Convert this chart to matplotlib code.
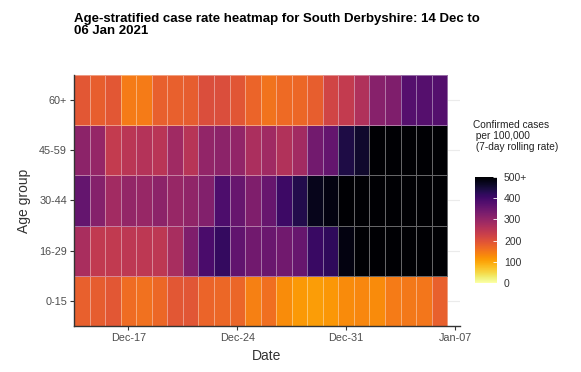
import matplotlib
matplotlib.use("Agg")
import matplotlib.pyplot as plt
import matplotlib.dates as mdates
import numpy as np
import datetime as dt

plt.rcParams['font.family'] = ['Liberation Sans', 'DejaVu Sans']

age_groups = ["0-15", "16-29", "30-44", "45-59", "60+"]
start_date = dt.date(2020, 12, 14)
n_days = 24

rate_60plus = [190, 180, 190, 145, 145, 178, 178, 183, 205, 205, 192, 172,
               155, 165, 168, 180, 220, 240, 265, 315, 325, 375, 375, 378]
rate_45_59 = [310, 298, 240, 250, 258, 252, 285, 255, 302, 310, 302, 270,
              285, 262, 283, 340, 358, 440, 460, 520, 530, 540, 545, 550]
rate_30_44 = [358, 318, 282, 300, 295, 310, 295, 303, 322, 385, 355, 325,
              355, 405, 435, 475, 485, 520, 540, 560, 570, 580, 580, 575]
rate_16_29 = [272, 242, 242, 248, 248, 248, 275, 325, 390, 415, 362, 342,
              350, 342, 355, 410, 420, 485, 520, 540, 560, 570, 580, 575]
rate_0_15 = [178, 183, 190, 163, 157, 168, 190, 192, 172, 168, 170, 140,
             160, 125, 112, 108, 115, 128, 132, 128, 145, 150, 152, 178]

x_ticks = [dt.date(2020, 12, 17), dt.date(2020, 12, 24), dt.date(2020, 12, 31), dt.date(2021, 1, 7)]
x_tick_labels = ["Dec-17", "Dec-24", "Dec-31", "Jan-07"]
cbar_ticks = [0, 100, 200, 300, 400, 500]
cbar_labels = ["0", "100", "200", "300", "400", "500+"]

data = np.array([rate_0_15, rate_16_29, rate_30_44, rate_45_59, rate_60plus], dtype=float)

W, H = 581, 372
fig = plt.figure(figsize=(W / 100, H / 100), dpi=100)

def fx(px):
    return px / W

def fy(py):
    return 1 - py / H

ax = fig.add_axes([fx(74), fy(326), fx(460) - fx(74), fy(75) - fy(326)])

d0 = mdates.date2num(dt.datetime.combine(start_date, dt.time()))
x_edges = d0 - 0.5 + np.arange(n_days + 1)
y_edges = np.arange(len(age_groups) + 1) - 0.5

mesh = ax.pcolormesh(x_edges, y_edges, data, cmap="inferno_r", vmin=0, vmax=500,
                     edgecolor=(1, 1, 1, 0.4), linewidth=0.5)

ax.set_xlim(d0 - 0.5, mdates.date2num(dt.datetime(2021, 1, 7)) + 0.32)
ax.set_ylim(-0.5, len(age_groups) - 0.5)

# faint horizontal grid lines (visible only beyond tiles)
for i in range(len(age_groups)):
    ax.axhline(i, color="#ebebeb", lw=0.8, zorder=0)

ax.set_xticks([mdates.date2num(dt.datetime.combine(d, dt.time())) for d in x_ticks])
ax.set_xticklabels(x_tick_labels)
ax.set_yticks(range(len(age_groups)))
ax.set_yticklabels(age_groups)
ax.tick_params(axis="both", labelsize=7.8, colors="#333333", length=3, width=0.8, pad=2)
ax.tick_params(axis="both", labelcolor="#4d4d4d")

for s in ["top", "right"]:
    ax.spines[s].set_visible(False)
for s in ["left", "bottom"]:
    ax.spines[s].set_color("#333333")
    ax.spines[s].set_linewidth(1.0)

ax.set_xlabel("Date", fontsize=10, color="#333333", labelpad=4)
ax.set_ylabel("Age group", fontsize=10, color="#333333", labelpad=6)

fig.text(fx(74), fy(13), "Age-stratified case rate heatmap for South Derbyshire: 14 Dec to\n06 Jan 2021",
         fontsize=9.5, fontweight="bold", ha="left", va="top", linespacing=0.95)

cax = fig.add_axes([fx(475), fy(286), fx(497) - fx(475), fy(175) - fy(286)])
cb = fig.colorbar(mesh, cax=cax, ticks=cbar_ticks)
cb.set_ticklabels(cbar_labels)
cb.outline.set_visible(False)
cax.tick_params(labelsize=7.5, colors="white", labelcolor="#333333", length=3, width=0.6,
                direction="in", pad=5)
cax.set_ylim(-15, 510)

fig.text(fx(473), fy(120), "Confirmed cases\n per 100,000\n (7-day rolling rate)",
         fontsize=7.3, ha="left", va="top", color="#222222", linespacing=1.15)

fig.savefig("out.png", dpi=100)
